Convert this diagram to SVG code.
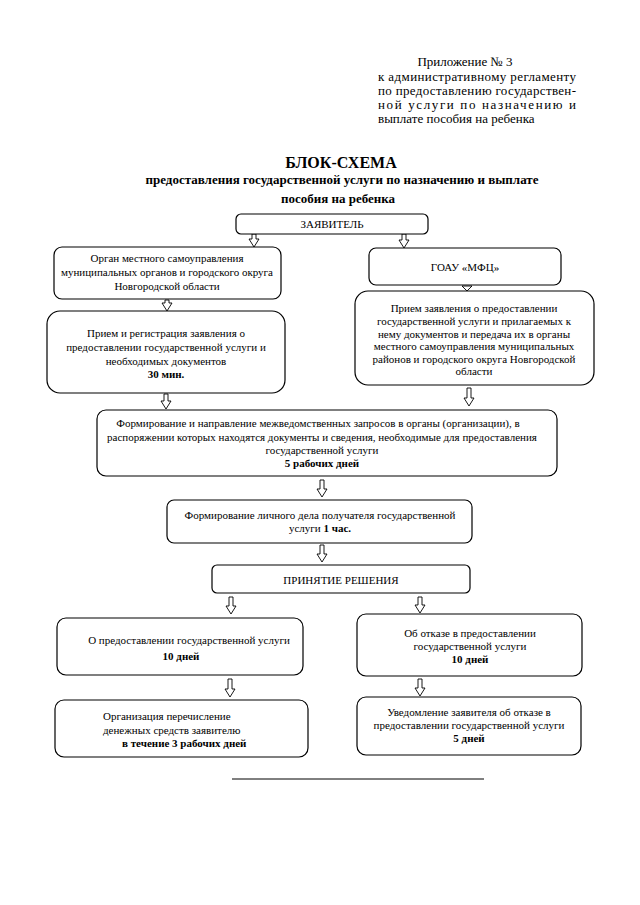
<svg xmlns="http://www.w3.org/2000/svg" width="640" height="905" viewBox="0 0 640 905">
<style>
.t{font-family:"Liberation Serif","Times New Roman",serif;font-size:11px;fill:#000}
.c{text-anchor:middle}
.b{font-weight:bold}
.h{font-family:"Liberation Serif","Times New Roman",serif;font-size:13px;fill:#000}
.box{fill:#fff;stroke:#000;stroke-width:1.2}
.arr{fill:#fff;stroke:#000;stroke-width:0.9}
</style>
<rect width="640" height="905" fill="#fff"/>
<g id="header">
<text class="h c" x="465" y="66">Приложение № 3</text>
<text class="h" x="378" y="81" textLength="198" lengthAdjust="spacing">к административному регламенту</text>
<text class="h" x="378" y="95" textLength="198" lengthAdjust="spacing">по предоставлению государствен-</text>
<text class="h" x="378" y="109" textLength="198" lengthAdjust="spacing">ной услуги по назначению и</text>
<text class="h" x="378" y="123">выплате пособия на ребенка</text>
</g>
<g id="title">
<text class="h c b" x="341" y="168" style="font-size:16px">БЛОК-СХЕМА</text>
<text class="h c b" x="342" y="184" textLength="393" lengthAdjust="spacingAndGlyphs">предоставления государственной услуги по назначению и выплате</text>
<text class="h c b" x="338" y="203">пособия на ребенка</text>
</g>
<g id="connectors">
<path class="arr" d="M252,234 L252,239 L249,239 L254,247 L259,239 L256,239 L256,234 Z"/>
<path class="arr" d="M402,234 L402,240 L399,240 L404,248 L409,240 L406,240 L406,234 Z"/>
<path class="arr" d="M165,300 L165,303 L162,303 L167,311 L172,303 L169,303 L169,300 Z"/>
<path class="arr" d="M465,286 L462,286 L467,291 L472,286 Z"/>
<path class="arr" d="M164,394 L164,401 L161,401 L166,409 L171,401 L168,401 L168,394 Z"/>
<path class="arr" d="M467,388 L467,398 L464,398 L469,406 L474,398 L471,398 L471,388 Z"/>
<path class="arr" d="M320,480 L320,489 L317,489 L322,497 L327,489 L324,489 L324,480 Z"/>
<path class="arr" d="M320,545 L320,554 L317,554 L322,562 L327,554 L324,554 L324,545 Z"/>
<path class="arr" d="M229,597 L229,606 L226,606 L231,614 L236,606 L233,606 L233,597 Z"/>
<path class="arr" d="M418,597 L418,605 L415,605 L420,613 L425,605 L422,605 L422,597 Z"/>
<path class="arr" d="M228,679 L228,689 L225,689 L230,697 L235,689 L232,689 L232,679 Z"/>
<path class="arr" d="M418,679 L418,688 L415,688 L420,696 L425,688 L422,688 L422,679 Z"/>
</g>
<g id="n-zayavitel">
<rect class="box" x="236" y="214" width="192" height="20" rx="5"/>
<text class="t c" x="332" y="228">ЗАЯВИТЕЛЬ</text>
</g>
<g id="n-organ">
<rect class="box" x="54" y="247" width="227" height="52" rx="8"/>
<text class="t c" x="167" y="262">Орган местного самоуправления</text>
<text class="t c" x="167" y="276">муниципальных органов и городского округа</text>
<text class="t c" x="167" y="290">Новгородской области</text>
</g>
<g id="n-mfc">
<rect class="box" x="369" y="248" width="192" height="37" rx="7"/>
<text class="t c" x="465" y="271">ГОАУ «МФЦ»</text>
</g>
<g id="n-priem-mfc">
<rect class="box" x="355" y="291" width="239" height="94" rx="13"/>
<text class="t c" x="474" y="312">Прием заявления о предоставлении</text>
<text class="t c" x="474" y="325">государственной услуги и прилагаемых к</text>
<text class="t c" x="474" y="338">нему документов и передача их в органы</text>
<text class="t c" x="474" y="350">местного самоуправления муниципальных</text>
<text class="t c" x="474" y="363">районов и городского округа Новгородской</text>
<text class="t c" x="474" y="375">области</text>
</g>
<g id="n-priem-reg">
<rect class="box" x="47" y="311" width="238" height="82" rx="13"/>
<text class="t c" x="166" y="337">Прием и регистрация заявления о</text>
<text class="t c" x="166" y="351">предоставлении государственной услуги и</text>
<text class="t c" x="166" y="365">необходимых документов</text>
<text class="t c b" x="166" y="378">30 мин.</text>
</g>
<g id="n-zaprosy">
<rect class="box" x="97" y="410" width="460" height="66" rx="9"/>
<text class="t c" x="318" y="427">Формирование и направление межведомственных запросов в органы (организации), в</text>
<text class="t c" x="322" y="441">распоряжении которых находятся документы и сведения, необходимые для предоставления</text>
<text class="t c" x="322" y="454">государственной услуги</text>
<text class="t c b" x="322" y="467">5 рабочих дней</text>
</g>
<g id="n-delo">
<rect class="box" x="167" y="500" width="305" height="43" rx="7"/>
<text class="t c" x="320" y="519">Формирование личного дела получателя государственной</text>
<text class="t c" x="320" y="532">услуги <tspan class="b">1 час.</tspan></text>
</g>
<g id="n-reshenie">
<rect class="box" x="212" y="565" width="258" height="28" rx="5"/>
<text class="t c" x="341" y="584">ПРИНЯТИЕ РЕШЕНИЯ</text>
</g>
<g id="n-predost">
<rect class="box" x="57" y="618" width="246" height="57" rx="9"/>
<text class="t c" x="189" y="644">О предоставлении государственной услуги</text>
<text class="t c b" x="181" y="660">10 дней</text>
</g>
<g id="n-otkaz">
<rect class="box" x="357" y="614" width="225" height="62" rx="9"/>
<text class="t c" x="470" y="637">Об отказе в предоставлении</text>
<text class="t c" x="470" y="650">государственной услуги</text>
<text class="t c b" x="470" y="663">10 дней</text>
</g>
<g id="n-perechislenie">
<rect class="box" x="55" y="700" width="253" height="57" rx="9"/>
<text class="t" x="103" y="720">Организация перечисление</text>
<text class="t" x="103" y="734">денежных средств заявителю</text>
<text class="t b" x="122" y="747">в течение 3 рабочих дней</text>
</g>
<g id="n-uvedomlenie">
<rect class="box" x="357" y="697" width="224" height="58" rx="9"/>
<text class="t c" x="469" y="716">Уведомление заявителя об отказе в</text>
<text class="t c" x="469" y="729">предоставлении государственной услуги</text>
<text class="t c b" x="469" y="742">5 дней</text>
</g>
<line x1="232" y1="779" x2="484" y2="779" stroke="#000" stroke-width="1"/>
</svg>
